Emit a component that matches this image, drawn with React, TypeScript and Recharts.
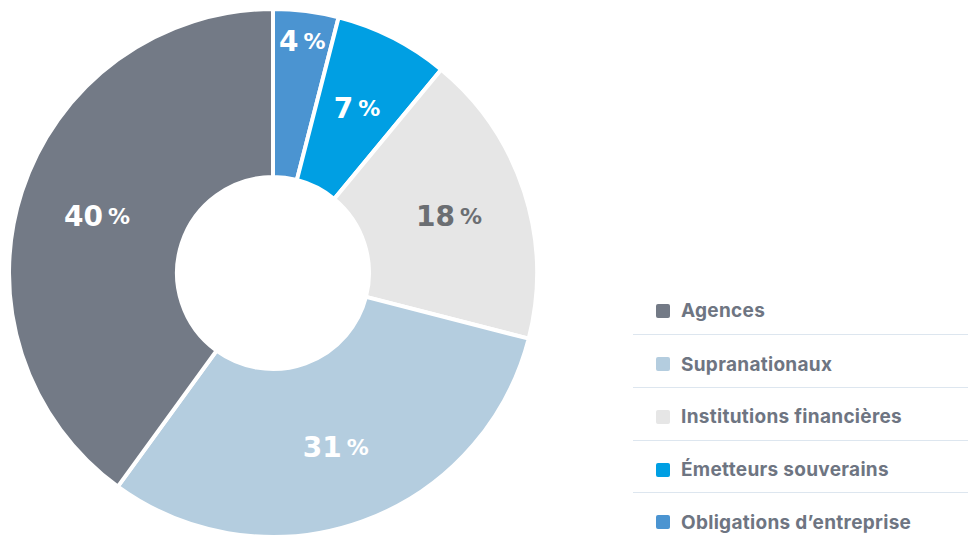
import { PieChart, Pie, Cell, Legend } from "recharts";

const categories = [
  "Obligations d’entreprise",
  "Émetteurs souverains",
  "Institutions financières",
  "Supranationaux",
  "Agences",
];
const shares = [4, 7, 18, 31, 40];
const colors = ["#4B94D1", "#009FE3", "#E6E6E6", "#B4CDDF", "#737A86"];
const labelColors = ["#FFFFFF", "#FFFFFF", "#6B6E72", "#FFFFFF", "#FFFFFF"];

const data = categories.map((name, i) => ({
  name,
  value: shares[i],
  color: colors[i],
  labelColor: labelColors[i],
}));

const RAD = Math.PI / 180;

const renderLabel = (props: any) => {
  const { cx, cy, midAngle, innerRadius, outerRadius, value, payload } = props;
  // narrow slices get their label pushed toward the rim
  const r =
    value < 5
      ? outerRadius - 30
      : innerRadius + (outerRadius - innerRadius) * 0.53;
  const x = cx + r * Math.cos(-midAngle * RAD);
  const y = cy + r * Math.sin(-midAngle * RAD);
  return (
    <text
      x={x}
      y={y}
      fill={payload.labelColor}
      textAnchor="middle"
      dominantBaseline="central"
      fontFamily="'DejaVu Sans', sans-serif"
      fontWeight="bold"
    >
      <tspan fontSize={28}>{value}</tspan>
      <tspan fontSize={22} dx={5}>
        %
      </tspan>
    </text>
  );
};

const renderLegend = () => {
  const items = [...data].reverse();
  return (
    <div style={{ width: 335 }}>
      {items.map((d, i) => (
        <div
          key={d.name}
          style={{
            display: "flex",
            alignItems: "center",
            height: 52.7,
            borderTop: i === 0 ? "none" : "1px solid #DDE6EF",
            paddingLeft: 23,
            paddingTop: 6,
            boxSizing: "border-box",
          }}
        >
          <span
            style={{
              width: 14,
              height: 14,
              borderRadius: 2,
              background: d.color,
              marginRight: 11,
            }}
          />
          <span
            style={{
              fontFamily: "Inter, 'Liberation Sans', sans-serif",
              fontWeight: 700,
              fontSize: 19,
              letterSpacing: 0.3,
              color: "#6E7582",
            }}
          >
            {d.name}
          </span>
        </div>
      ))}
    </div>
  );
};

export default function App() {
  return (
    <div style={{ position: "absolute", left: 0, top: 0, width: 968, height: 538 }}>
      <PieChart width={968} height={538}>
        <Pie
          data={data}
          dataKey="value"
          nameKey="name"
          cx={268}
          cy={268}
          innerRadius={96}
          outerRadius={264}
          startAngle={90}
          endAngle={-270}
          stroke="#FFFFFF"
          strokeWidth={4}
          label={renderLabel}
          labelLine={false}
          isAnimationActive={false}
        >
          {data.map((d) => (
            <Cell key={d.name} fill={d.color} />
          ))}
        </Pie>
        <Legend
          content={renderLegend}
          layout="vertical"
          align="right"
          verticalAlign="top"
          wrapperStyle={{ left: 633, top: 281.6, width: 335 }}
        />
      </PieChart>
    </div>
  );
}
